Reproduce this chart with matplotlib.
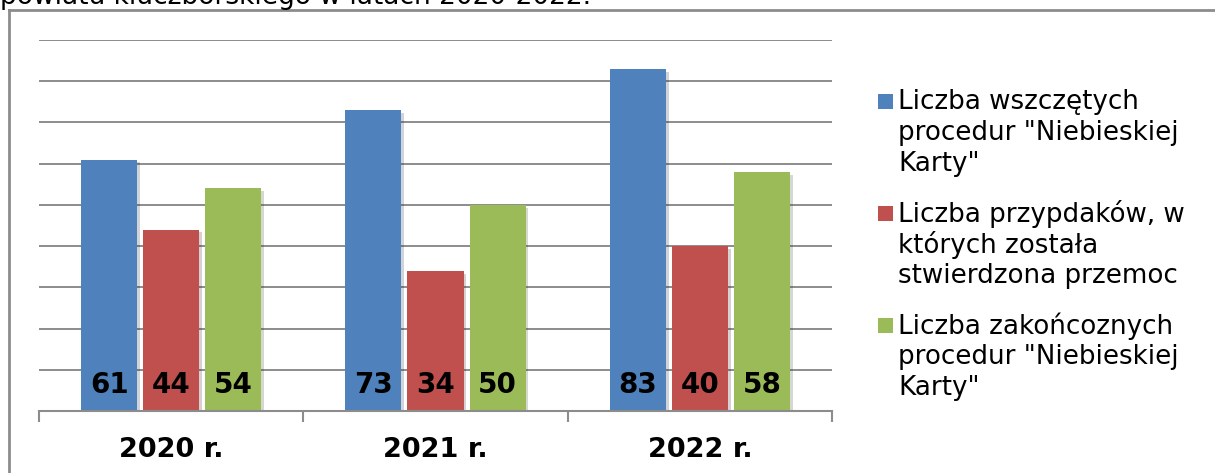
import matplotlib
matplotlib.use("Agg")
import matplotlib.pyplot as plt
import matplotlib.patheffects as pe
from matplotlib.patches import Rectangle
from matplotlib.lines import Line2D
import numpy as np

years = ["2020 r.", "2021 r.", "2022 r."]
series_names = [
    "Liczba wszczętych\nprocedur \"Niebieskiej\nKarty\"",
    "Liczba przypdaków, w\nktórych została\nstwierdzona przemoc",
    "Liczba zakońcoznych\nprocedur \"Niebieskiej\nKarty\"",
]
wszczete = [61, 73, 83]
przemoc = [44, 34, 40]
zakonczone = [54, 50, 58]
series = [wszczete, przemoc, zakonczone]
colors = ["#4F81BD", "#C0504D", "#9BBB59"]
title_text = "powiatu kluczborskiego w latach 2020-2022."

W, H = 1215, 473
fig = plt.figure(figsize=(W / 100, H / 100), dpi=100)
fig.patch.set_facecolor("white")

ax = fig.add_axes([39 / W, 1 - 411 / H, (832 - 39) / W, (411 - 40) / H])
ax.set_xlim(-0.5, 2.5)
ax.set_ylim(0, 90)

x = np.arange(len(years))
bw = 56 / 264.3
step = 62 / 264.3
for i, (vals, c) in enumerate(zip(series, colors)):
    pos = x + (i - 1) * step
    ax.bar(pos, vals, width=bw, color=c, zorder=3,
           path_effects=[pe.SimplePatchShadow(offset=(2, -2), alpha=0.2), pe.Normal()])
    for p, v in zip(pos, vals):
        ax.text(p, 6.3, str(v), ha="center", va="center", fontsize=20,
                fontweight="bold", color="black", zorder=4)

ax.set_yticks(np.arange(0, 91, 10))
ax.yaxis.grid(True, color="#8C8C8C", linewidth=1.4, zorder=0)
ax.tick_params(axis="y", left=False, labelleft=False)
for s in ["left", "right", "top"]:
    ax.spines[s].set_visible(False)
ax.spines["bottom"].set_color("#8C8C8C")
ax.spines["bottom"].set_linewidth(1.5)
ax.spines["bottom"].set_zorder(5)

ax.set_xticks(x)
ax.set_xticklabels(years, fontsize=19.5, fontweight="bold")
ax.tick_params(axis="x", which="major", length=0, pad=19)
ax.set_xticks([-0.5, 0.5, 1.5, 2.5], minor=True)
ax.tick_params(axis="x", which="minor", length=8, width=1.5, color="#8C8C8C", direction="out")

# frame
fig.add_artist(Line2D([9 / W, 9 / W], [0, 1 - 10 / H], transform=fig.transFigure,
                      color="#8C8C8C", linewidth=2))
fig.add_artist(Line2D([9 / W, 1], [1 - 10 / H, 1 - 10 / H], transform=fig.transFigure,
                      color="#8C8C8C", linewidth=2))

# cut-off title (partially visible at the top, as in the source)
fig.text(0 / W, 1 - 4 / H, title_text, ha="left", va="baseline", fontsize=19, color="black")

# legend
entry_tops = [102, 214, 326]
for name, c, yc in zip(series_names, colors, entry_tops):
    fig.add_artist(Rectangle((878 / W, 1 - (yc + 7) / H), 15 / W, 15 / H,
                             transform=fig.transFigure, facecolor=c, edgecolor="none"))
    lines = name.split("\n")
    for k, ln in enumerate(lines):
        fig.text(898 / W, 1 - (yc + k * 31) / H, ln, ha="left", va="center",
                 fontsize=18.8, color="black")

fig.savefig("out.png", dpi=100)
